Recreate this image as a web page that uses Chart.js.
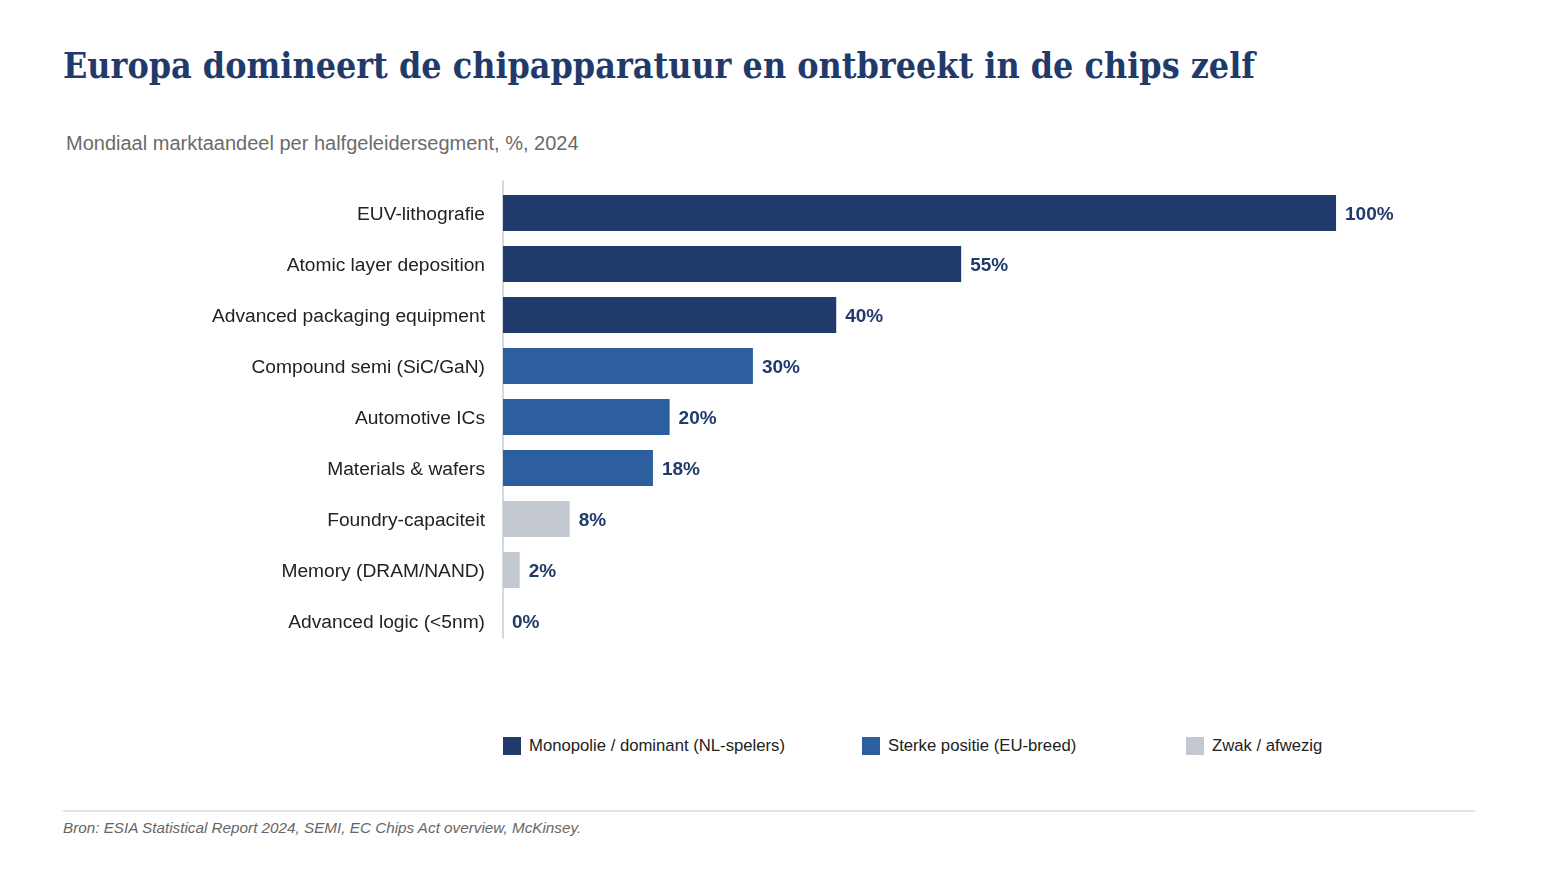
<!DOCTYPE html>
<html lang="nl">
<head>
<meta charset="utf-8">
<title>Europa domineert de chipapparatuur</title>
<script src="https://cdn.jsdelivr.net/npm/chart.js@4.4.1/dist/chart.umd.min.js"></script>
<style>
  html, body { margin: 0; padding: 0; background: #fff; overflow: hidden; }
  body { width: 1543px; height: 869px; position: relative; font-family: "Liberation Sans", Arial, sans-serif; }
  h1 {
    position: absolute; left: 63px; top: 48px; margin: 0; line-height: 36px;
    font-family: "DejaVu Serif", serif; font-stretch: condensed; font-weight: bold;
    font-size: 35.5px; color: #1f3a6b; white-space: nowrap;
  }
  .sub { position: absolute; left: 66px; top: 132px; font-size: 20px; color: #6b6b6b; }
  #wrap { position: absolute; left: 0; top: 150px; width: 1543px; height: 560px; }
  #legend { position: absolute; top: 736px; left: 503px; display: flex; font-size: 16.7px; color: #222; }
  #legend .item { display: flex; align-items: center; }
  #legend .box { width: 18px; height: 18px; margin-right: 8px; }
  .rule { position: absolute; left: 63px; top: 810px; width: 1412px; height: 2px; background: #e0e3e9; }
  .src { position: absolute; left: 63px; top: 819px; font-size: 15.25px; font-style: italic; color: #666; }
</style>
</head>
<body>
<h1>Europa domineert de chipapparatuur en ontbreekt in de chips zelf</h1>
<div class="sub">Mondiaal marktaandeel per halfgeleidersegment, %, 2024</div>
<div id="wrap"><canvas id="chart"></canvas></div>
<div id="legend"></div>
<div class="rule"></div>
<div class="src">Bron: ESIA Statistical Report 2024, SEMI, EC Chips Act overview, McKinsey.</div>

<script>
const segments = [
  "EUV-lithografie",
  "Atomic layer deposition",
  "Advanced packaging equipment",
  "Compound semi (SiC/GaN)",
  "Automotive ICs",
  "Materials & wafers",
  "Foundry-capaciteit",
  "Memory (DRAM/NAND)",
  "Advanced logic (<5nm)"
];
const shares = [100, 55, 40, 30, 20, 18, 8, 2, 0];
// 0 = monopolie, 1 = sterk, 2 = zwak
const groups = [0, 0, 0, 1, 1, 1, 2, 2, 2];
const groupNames = ["Monopolie / dominant (NL-spelers)", "Sterke positie (EU-breed)", "Zwak / afwezig"];
const groupColors = ["#1f3a6b", "#2d5f9e", "#c4c8d1"];

const valueLabels = {
  id: "valueLabels",
  afterDatasetsDraw(chart) {
    const ctx = chart.ctx;
    const meta = chart.getDatasetMeta(0);
    ctx.save();
    ctx.font = "bold 19px 'Liberation Sans', Arial, sans-serif";
    ctx.fillStyle = "#1f3a6b";
    ctx.textBaseline = "middle";
    ctx.textAlign = "left";
    meta.data.forEach((bar, i) => {
      ctx.fillText(shares[i] + "%", bar.x + 9, bar.y + 2);
    });
    ctx.restore();
  }
};

const axisLine = {
  id: "axisLine",
  beforeDatasetsDraw(chart) {
    const { ctx, chartArea } = chart;
    ctx.save();
    ctx.strokeStyle = "#d3d7df";
    ctx.lineWidth = 2;
    ctx.beginPath();
    ctx.moveTo(chartArea.left, chartArea.top - 7);
    ctx.lineTo(chartArea.left, chartArea.bottom - 8);
    ctx.stroke();
    ctx.restore();
  }
};

function buildLegend() {
  const legend = document.getElementById("legend");
  const widths = [359, 324, 200];
  groupNames.forEach((name, i) => {
    const item = document.createElement("div");
    item.className = "item";
    item.style.width = widths[i] + "px";
    item.innerHTML = `<span class="box" style="background:${groupColors[i]}"></span><span>${name}</span>`;
    legend.appendChild(item);
  });
}

function drawChart() {
  const ctx = document.getElementById("chart").getContext("2d");
  new Chart(ctx, {
    type: "bar",
    data: {
      labels: segments,
      datasets: [{
        data: shares,
        backgroundColor: groups.map(g => groupColors[g]),
        categoryPercentage: 0.706,
        barPercentage: 1.0
      }]
    },
    options: {
      indexAxis: "y",
      responsive: true,
      maintainAspectRatio: false,
      animation: false,
      layout: { padding: { top: 37.5, bottom: 63.5, left: 0, right: 82 } },
      plugins: { legend: { display: false }, tooltip: { enabled: false } },
      scales: {
        x: { display: false, min: 0, max: 115 },
        y: {
          border: { display: false },
          grid: { display: false, drawTicks: false },
          ticks: {
            padding: 18,
            labelOffset: 2,
            color: "#222",
            font: { family: "'Liberation Sans', Arial, sans-serif", size: 19.2 }
          },
          afterFit(scale) { scale.width = 503; }
        }
      }
    },
    plugins: [axisLine, valueLabels]
  });
}

document.addEventListener("DOMContentLoaded", () => {
  buildLegend();
  drawChart();
});
</script>
</body>
</html>
